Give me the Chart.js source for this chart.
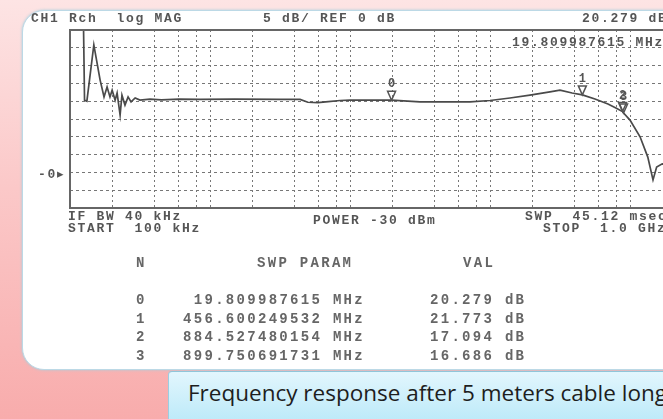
<!DOCTYPE html>
<html>
<head>
<meta charset="utf-8">
<script src="https://cdn.jsdelivr.net/npm/chart.js@4.4.0/dist/chart.umd.min.js"></script>
<style>
html, body { margin: 0; padding: 0; width: 663px; height: 419px; overflow: hidden; }
body { position: relative; background: linear-gradient(180deg, #fde4e4 0%, #fbc8c8 45%, #f8acac 100%); }
#panel { position: absolute; left: 22px; top: 10px; width: 720px; height: 358px; background: #fff;
         border: 1px solid #bcd9e6; border-radius: 22px; box-shadow: 0 0 3px #a8cfdd; }
#chartBox { position: absolute; left: 0; top: 0; }
.t { position: absolute; white-space: pre; color: #555; font: bold 13px "Liberation Mono", monospace;
     letter-spacing: 1.7px; line-height: 12px; filter: blur(0.3px); }
.tb { position: absolute; white-space: pre; color: #666; font: bold 14px "Liberation Mono", monospace;
      letter-spacing: 2.3px; line-height: 14px; filter: blur(0.3px); }
#caption { position: absolute; left: 168px; top: 371px; width: 540px; height: 60px;
           background: linear-gradient(180deg, #e2f6fd 0%, #b4e7f8 100%);
           border-top: 1px solid #8fc6da; border-left: 1px solid #9ccde0; border-top-left-radius: 4px;
           font: 22.5px "Open Sans", sans-serif; color: #1e1e1e; line-height: 24px; }
#caption span { position: absolute; left: 19px; top: 9px; white-space: nowrap; }
</style>
</head>
<body>
<div id="panel"></div>
<div id="chartBox"><canvas id="vnaChart" width="720" height="240"></canvas></div>

<div class="t" style="left:31px;top:13px">CH1 Rch  log MAG</div>
<div class="t" style="left:263px;top:13px">5 dB/ REF 0 dB</div>
<div class="t" style="left:582px;top:13px">20.279 dB</div>
<div class="t" style="left:512px;top:37px">19.809987615 MHz</div>
<div class="t" style="left:38px;top:168px">-0<span style="font-family:'DejaVu Sans';letter-spacing:0">&#9656;</span></div>
<div class="t" style="left:68px;top:211px">IF BW 40 kHz</div>
<div class="t" style="left:68px;top:223px">START  100 kHz</div>
<div class="t" style="left:313px;top:215px">POWER -30 dBm</div>
<div class="t" style="left:525px;top:211px">SWP  45.12 msec</div>
<div class="t" style="left:543px;top:223px">STOP  1.0 GHz</div>

<div class="tb" style="left:136px;top:256px">N</div>
<div class="tb" style="left:257px;top:256px">SWP PARAM</div>
<div class="tb" style="left:463px;top:256px">VAL</div>
<div id="table"></div>

<div id="caption"><span>Frequency response after 5 meters cable long</span></div>

<script>
// trace (Hz, dB)
const traceFreqs = [1.0e5, 1.25e5, 1.27e5, 1.32e5, 1.48e5, 1.64e5, 1.75e5, 1.84e5, 1.93e5, 2.0e5,
    2.1e5, 2.17e5, 2.28e5, 2.35e5, 2.47e5, 2.6e5, 2.73e5, 2.92e5, 3.16e5, 3.73e5,
    4.5e5, 6.0e5, 8.5e5, 1.5e6, 3.2e6, 4.4e6, 5.0e6, 5.9e6, 7.0e6, 8.5e6,
    1.0e7, 1.98e7, 3.16e7, 5.0e7, 7.2e7, 1.0e8, 1.39e8, 1.93e8, 2.68e8, 3.16e8,
    3.86e8, 4.566e8, 5.62e8, 6.96e8, 7.93e8, 8.845e8, 8.9975e8, 1.0e9, 1.18e9, 1.34e9,
    1.46e9, 1.55e9, 1.7e9, 2.6e9];
const traceDb = [40, 40, 20.3, 20.0, 35.8, 26.0, 21.2, 24.0, 21.2, 23.1,
    20.3, 22.3, 16.1, 21.7, 18.9, 21.2, 19.8, 20.9, 20.3, 20.6,
    20.4, 20.6, 20.5, 20.6, 20.5, 20.5, 19.7, 19.6, 19.9, 20.2,
    20.3, 20.28, 19.8, 19.8, 19.8, 20.2, 20.9, 21.7, 22.6, 23.1,
    22.3, 21.77, 20.6, 19.2, 18.1, 17.09, 16.69, 14.7, 10.0, 4.3,
    -2.1, 1.5, 2.4, 1.8];

// marker table
const markerIds = [0, 1, 2, 3];
const markerFreqMHz = ['19.809987615', '456.600249532', '884.527480154', '899.750691731'];
const markerVals = [20.279, 21.773, 17.094, 16.686];

// graticule
const gridFreqs = [2e5, 4e5, 6e5, 8e5, 1e6, 2e6, 4e6, 6e6, 8e6, 1e7,
    2e7, 4e7, 6e7, 8e7, 1e8, 2e8, 4e8, 6e8, 8e8, 1e9, 2e9];
const dbMin = -10, dbMax = 40, dbPerDiv = 5;

// marker table rows
const table = document.getElementById('table');
markerIds.forEach((id, i) => {
    const top = 293 + Math.round(i * 18.5);
    table.insertAdjacentHTML('beforeend',
        `<div class="tb" style="left:136px;top:${top}px">${id}</div>` +
        `<div class="tb" style="left:150px;width:215px;text-align:right;top:${top}px">${markerFreqMHz[i]} MHz</div>` +
        `<div class="tb" style="left:430px;top:${top}px">${markerVals[i].toFixed(3)} dB</div>`);
});

const frameAndMarkers = {
    id: 'frameAndMarkers',
    afterDatasetsDraw(chart) {
        const { ctx, chartArea: a, scales: { x, y } } = chart;
        ctx.save();
        ctx.strokeStyle = '#666';
        ctx.lineWidth = 2;
        ctx.strokeRect(a.left, a.top, a.right - a.left, a.bottom - a.top);

        ctx.strokeStyle = '#555';
        ctx.fillStyle = '#555';
        ctx.lineWidth = 1.5;
        ctx.font = 'bold 12px "Liberation Mono"';
        ctx.textAlign = 'center';
        ctx.textBaseline = 'bottom';
        markerIds.forEach((id, i) => {
            const px = x.getPixelForValue(parseFloat(markerFreqMHz[i]) * 1e6);
            const py = y.getPixelForValue(markerVals[i]);
            ctx.beginPath();
            ctx.moveTo(px - 4, py - 9);
            ctx.lineTo(px + 4, py - 9);
            ctx.lineTo(px, py);
            ctx.closePath();
            ctx.stroke();
            ctx.fillText(String(id), px, py - 10);
        });
        ctx.restore();
    }
};

new Chart(document.getElementById('vnaChart'), {
    type: 'line',
    data: {
        datasets: [{
            data: traceFreqs.map((f, i) => ({ x: f, y: traceDb[i] })),
            borderColor: '#4a4a4a',
            borderWidth: 1.7,
            pointRadius: 0,
            tension: 0
        }]
    },
    options: {
        responsive: false,
        animation: false,
        devicePixelRatio: 1,
        layout: { padding: { left: 70, top: 30, right: 20, bottom: 32 } },
        plugins: { legend: { display: false }, tooltip: { enabled: false } },
        scales: {
            x: {
                type: 'logarithmic',
                min: 1e5,
                max: Math.pow(10, 9.5),
                afterBuildTicks: s => { s.ticks = gridFreqs.map(v => ({ value: v })); },
                ticks: { display: false },
                grid: { color: '#777', lineWidth: 1, drawTicks: false },
                border: { display: false, dash: [2, 3] }
            },
            y: {
                min: dbMin,
                max: dbMax,
                ticks: { display: false, stepSize: dbPerDiv },
                grid: { color: '#777', lineWidth: 1, drawTicks: false },
                border: { display: false, dash: [3, 3] }
            }
        }
    },
    plugins: [frameAndMarkers]
});
</script>
</body>
</html>
